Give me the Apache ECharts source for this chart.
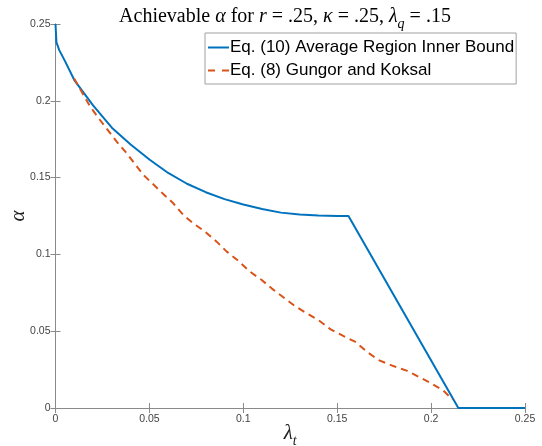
<!DOCTYPE html>
<html>
<head>
<meta charset="utf-8">
<script src="https://cdn.jsdelivr.net/npm/echarts@6/dist/echarts.min.js"></script>
<style>html,body{margin:0;padding:0;background:#fff}#c{width:542px;height:446px}</style>
</head>
<body>
<div id="c"></div>
<script>
// Eq. (10) Average Region Inner Bound
const innerX = [0, 0.0005, 0.002, 0.005, 0.01, 0.02, 0.03, 0.04, 0.05, 0.06, 0.07, 0.08, 0.09, 0.1, 0.11, 0.12, 0.13, 0.14, 0.15, 0.156, 0.2145, 0.25];
const innerY = [0.25, 0.238, 0.233, 0.226, 0.2135, 0.197, 0.1825, 0.1715, 0.1618, 0.153, 0.146, 0.1405, 0.136, 0.1325, 0.1295, 0.1272, 0.126, 0.1253, 0.125, 0.125, 0, 0];
// Eq. (8) Gungor and Koksal
const gkX = [0.0099, 0.0184, 0.0237, 0.0326, 0.0379, 0.0468, 0.053, 0.0574, 0.0627, 0.068, 0.0734, 0.0796, 0.0858, 0.0912, 0.0973, 0.1036, 0.1098, 0.1151, 0.1213, 0.1275, 0.1338, 0.1405, 0.1465, 0.1532, 0.1595, 0.1657, 0.1719, 0.1799, 0.187, 0.1932, 0.1994, 0.2065, 0.2115];
const gkY = [0.2146, 0.1963, 0.1875, 0.1734, 0.1658, 0.1517, 0.1445, 0.1393, 0.1333, 0.1257, 0.1202, 0.1148, 0.1083, 0.1018, 0.0959, 0.0887, 0.0833, 0.0779, 0.0721, 0.0664, 0.0616, 0.0568, 0.0512, 0.0469, 0.0432, 0.0367, 0.0313, 0.0273, 0.0243, 0.0204, 0.0165, 0.0113, 0.0055];
const xTicks = ['0', '0.05', '0.1', '0.15', '0.2', '0.25'];
const yTicks = ['0', '0.05', '0.1', '0.15', '0.2', '0.25'];
const seriesNames = ['Eq. (10) Average Region Inner Bound', 'Eq. (8) Gungor and Koksal'];

const zip = (xs, ys) => xs.map((x, i) => [x, ys[i]]);
const fmt = arr => v => { const i = Math.round(v / 0.05); return arr[i] !== undefined ? arr[i] : ''; };
const axisGray = '#8a8a8a';
const labelGray = '#444';
const serif = 'Liberation Serif';

const baseAxis = {
  type: 'value', min: 0, max: 0.25, interval: 0.05,
  axisLine: { show: true, lineStyle: { color: axisGray, width: 1 } },
  axisTick: { show: true, inside: true, length: 5, lineStyle: { color: axisGray } },
  splitLine: { show: false }
};
const tStyle = (extra) => Object.assign({ fontFamily: serif, fontSize: 20, fontWeight: 'normal', color: '#000', verticalAlign: 'bottom', padding: [0, 0, 4, 0] }, extra);

const chart = echarts.init(document.getElementById('c'), null, { renderer: 'canvas' });
chart.setOption({
  animation: false,
  backgroundColor: '#fff',
  title: {
    text: '{n|Achievable }{i|α}{n| for }{i|r}{n| = .25, }{i|κ}{n| = .25, }{i|λ}{s|q}{n| = .15}',
    left: 280, textAlign: 'center', top: 2,
    textStyle: {
      fontWeight: 'normal',
      rich: {
        n: tStyle({}),
        i: tStyle({ fontStyle: 'italic' }),
        s: tStyle({ fontStyle: 'italic', fontSize: 14, padding: [0, 0, 0, 0] })
      }
    }
  },
  legend: {
    orient: 'vertical', left: 205, top: 33,
    data: [
      { name: seriesNames[0], icon: 'path://M0 0 H21 V2 H0 Z' },
      { name: seriesNames[1], icon: 'path://M0 0 H7 V2 H0 Z M14 0 H21 V2 H14 Z' }
    ],
    itemWidth: 21, itemHeight: 2, itemGap: 6,
    padding: [6, 2, 5, 3],
    borderColor: '#a0a0a0', borderWidth: 1, backgroundColor: '#fff',
    textStyle: { fontFamily: 'Liberation Sans', fontSize: 17, color: '#000', padding: [0, 0, 0, -4] }
  },
  grid: { left: 55.5, right: 17, top: 24, bottom: 38, containLabel: false, outerBoundsMode: 'none' },
  xAxis: [
    Object.assign({}, baseAxis, {
      position: 'bottom',
      axisLabel: { formatter: fmt(xTicks), color: labelGray, fontFamily: 'Liberation Sans', fontSize: 10.5, margin: 6 },
      name: '{i|λ}{s|t}', nameLocation: 'middle', nameGap: 15, nameMoveOverlap: false,
      nameTextStyle: {
        rich: {
          i: { fontFamily: serif, fontStyle: 'italic', fontSize: 21, color: '#222', verticalAlign: 'bottom', padding: [0, 0, 4, 0] },
          s: { fontFamily: serif, fontStyle: 'italic', fontSize: 14, color: '#222', verticalAlign: 'bottom' }
        }
      }
    }),
    Object.assign({}, baseAxis, { position: 'top', axisLabel: { show: false } })
  ],
  yAxis: [
    Object.assign({}, baseAxis, {
      position: 'left',
      axisLabel: { formatter: fmt(yTicks), color: labelGray, fontFamily: 'Liberation Sans', fontSize: 10.5, margin: 5 },
      name: 'α', nameLocation: 'middle', nameGap: 27, nameMoveOverlap: false,
      nameTextStyle: { fontFamily: serif, fontStyle: 'italic', fontSize: 21, color: '#222' }
    }),
    Object.assign({}, baseAxis, { position: 'right', axisLabel: { show: false } })
  ],
  series: [
    {
      name: seriesNames[0], type: 'line', data: zip(innerX, innerY), symbol: 'none', smooth: false,
      lineStyle: { color: '#0072BD', width: 2 }, itemStyle: { color: '#0072BD' }
    },
    {
      name: seriesNames[1], type: 'line', data: zip(gkX, gkY), symbol: 'none', smooth: false,
      lineStyle: { color: '#D95319', width: 2, type: [7, 5] }, itemStyle: { color: '#D95319' }
    }
  ]
});
</script>
</body>
</html>
